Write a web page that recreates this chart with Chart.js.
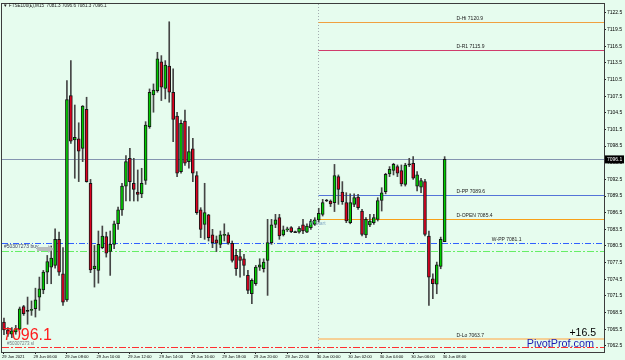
<!DOCTYPE html>
<html><head><meta charset="utf-8">
<script src="https://cdn.jsdelivr.net/npm/chart.js@4.4.0/dist/chart.umd.min.js"></script>
<style>html,body{margin:0;padding:0;background:#e6fcee;}canvas{display:block;}</style>
</head><body>
<canvas id="c" width="625" height="360"></canvas>
<script>
// ---------------- DATA ----------------
const chartTitle = '\u25BC FTSE100(\u00A3),M15  7081.3 7096.6 7081.3 7096.1';
const tickLabels = ['29 Jun 2021','29 Jun 06:00','29 Jun 08:00','29 Jun 10:00','29 Jun 12:00','29 Jun 14:00','29 Jun 16:00','29 Jun 18:00','29 Jun 20:00','29 Jun 22:00','30 Jun 00:00','30 Jun 02:00','30 Jun 04:00','30 Jun 06:00','30 Jun 08:00'];
const barsPerTick = 8;
const totalSlots = 153;
const openP  = [7066.8,7065.4,7064.6,7065.0,7065.5,7069.6,7068.8,7068.9,7069.2,7071.3,7072.6,7075.8,7076.7,7077.0,7081.7,7075.5,7070.8,7107.6,7099.6,7099.8,7098.1,7105.1,7091.8,7076.4,7076.1,7080.2,7082.2,7079.5,7080.8,7084.5,7087.0,7091.3,7096.3,7091.8,7090.2,7089.9,7092.3,7102.0,7107.7,7108.5,7113.7,7108.9,7112.9,7108.2,7103.9,7093.9,7103.0,7095.7,7098.0,7093.2,7087.0,7084.4,7086.1,7082.5,7081.6,7080.8,7082.4,7082.5,7081.0,7078.8,7078.6,7078.2,7075.2,7071.9,7073.7,7076.7,7076.4,7077.9,7081.1,7084.4,7085.6,7082.5,7083.4,7083.8,7083.0,7083.0,7084.3,7083.0,7083.8,7084.4,7085.2,7086.2,7088.7,7088.6,7088.3,7093.0,7090.2,7088.3,7084.7,7088.0,7089.3,7086.8,7082.5,7084.3,7084.7,7085.3,7088.7,7090.3,7093.5,7094.1,7094.8,7094.1,7091.6,7095.2,7095.4,7091.3,7091.1,7092.1,7082.3,7074.6,7073.6,7076.8,7081.3];
const highP  = [7067.5,7065.8,7065.8,7066.2,7069.5,7069.8,7071.3,7070.6,7072.9,7074.9,7076.1,7078.8,7080.5,7083.6,7083.0,7080.2,7110.3,7113.9,7105.9,7102.7,7105.8,7107.3,7092.5,7080.6,7083.2,7084.1,7083.0,7083.2,7085.0,7087.5,7091.8,7096.8,7098.1,7096.3,7094.2,7094.5,7102.9,7108.8,7109.7,7115.4,7114.8,7113.9,7120.9,7112.4,7104.6,7103.2,7105.0,7102.0,7099.9,7093.9,7087.4,7091.8,7086.2,7083.5,7082.3,7083.2,7084.5,7082.9,7081.4,7079.9,7079.9,7079.0,7076.1,7074.6,7077.0,7078.2,7078.2,7085.3,7085.3,7086.2,7086.2,7084.1,7083.9,7084.0,7083.2,7084.0,7085.3,7084.5,7085.3,7085.6,7087.3,7088.9,7088.9,7088.8,7095.2,7093.3,7092.1,7090.1,7089.9,7089.9,7089.8,7087.1,7085.6,7086.2,7086.2,7089.2,7091.0,7093.6,7094.8,7095.4,7095.1,7095.1,7095.4,7096.3,7096.6,7093.9,7092.7,7092.5,7083.2,7075.5,7077.6,7082.1,7096.6];
const lowP   = [7064.5,7064.2,7064.0,7064.6,7065.4,7068.0,7066.4,7068.0,7067.7,7068.9,7071.9,7073.7,7073.7,7076.5,7075.2,7069.8,7070.5,7099.0,7092.7,7092.1,7095.7,7092.0,7075.7,7073.1,7073.8,7080.0,7078.5,7075.2,7080.0,7083.5,7086.0,7088.6,7088.6,7088.6,7088.6,7089.2,7091.6,7101.7,7104.6,7108.2,7106.7,7107.0,7106.4,7099.3,7093.0,7093.6,7095.0,7094.5,7092.1,7086.2,7082.0,7081.7,7081.4,7080.2,7079.5,7080.2,7081.4,7080.8,7077.6,7075.2,7074.9,7075.2,7071.9,7070.1,7073.4,7076.1,7075.8,7071.6,7080.8,7083.8,7081.7,7082.3,7083.1,7082.9,7082.9,7082.8,7082.7,7082.9,7083.5,7084.2,7084.8,7085.9,7088.5,7087.6,7086.7,7088.0,7088.0,7084.7,7084.5,7087.6,7087.1,7082.3,7082.0,7084.0,7084.4,7085.0,7086.8,7089.9,7093.0,7093.3,7093.0,7091.3,7091.3,7094.8,7092.5,7090.4,7090.1,7082.3,7069.8,7071.0,7071.9,7076.4,7081.3];
const closeP = [7065.4,7064.6,7065.2,7065.6,7069.2,7068.3,7068.8,7069.1,7070.8,7072.8,7075.8,7077.7,7078.3,7081.7,7075.8,7070.4,7106.9,7099.4,7100.1,7097.6,7105.7,7092.1,7076.2,7076.9,7080.8,7082.3,7079.2,7080.8,7084.5,7087.0,7091.3,7095.7,7092.1,7090.7,7089.8,7091.8,7102.3,7108.2,7108.6,7114.2,7109.1,7113.1,7108.2,7103.3,7093.6,7102.6,7095.4,7097.5,7093.6,7086.5,7083.5,7086.5,7082.0,7081.1,7081.0,7082.5,7082.6,7081.0,7077.9,7076.4,7077.9,7077.0,7072.5,7074.3,7076.7,7077.1,7077.6,7081.1,7084.3,7085.2,7082.3,7083.4,7083.6,7083.1,7083.1,7083.7,7083.2,7084.1,7085.0,7085.2,7086.4,7088.3,7088.7,7088.1,7093.2,7090.7,7088.5,7085.0,7088.3,7089.2,7087.4,7082.6,7085.3,7085.0,7085.6,7088.7,7090.1,7093.4,7094.3,7095.2,7093.6,7091.7,7095.1,7095.3,7092.7,7093.3,7092.3,7082.6,7074.9,7073.7,7077.1,7081.7,7096.1];
const yTickValues = [7062.5,7065.5,7068.5,7071.5,7074.5,7077.5,7080.5,7083.5,7086.5,7089.5,7092.5,7095.5,7098.5,7101.5,7104.5,7107.5,7110.5,7113.5,7116.5,7119.5,7122.5];
const yMin = 7061.4, yMax = 7124.1;
const levelNames  = ['D-Hi','D-R1','D-PP','D-OPEN','W-PP','D-Lo'];
const levelValues = [7120.9,7115.9,7089.6,7085.4,7081.1,7063.7];
const bidPrice = 7096.1;
const buyPrice = 7079.6;
const slPrice  = 7062.3;
const orderLabel = '#50307273 buy';
const slLabel = '#50307273 sl';
const profitText = '+16.5';
const brandText = 'PivotProf.com';
const dayStartSlot = 80;

// ---------------- STYLES ----------------
const BG = '#e6fcee';
const FAM = '"Liberation Sans", Arial, sans-serif';
const levelStyles = [
  {color:'#f0a040', width:1, dash:[], fromDay:true, labelSlot:115},
  {color:'#d03c6c', width:1, dash:[], fromDay:true, labelSlot:115},
  {color:'#5474d8', width:1, dash:[], fromDay:true, labelSlot:115},
  {color:'#f8a018', width:1, dash:[], fromDay:true, labelSlot:115},
  {color:'#3060ff', width:1, dash:[6,2,1,2], fromDay:false, labelSlot:124},
  {color:'#f5d096', width:2, dash:[], fromDay:true, labelSlot:115}
];
const TXT = '5px ' + FAM;

const slots = Array.from({length: totalSlots}, (_, i) => i);
const nBars = openP.length;
function bodyOf(i){
  if (i >= nBars) return null;
  const o = openP[i], c = closeP[i];
  if (Math.abs(o - c) < 0.15) return [o - 0.09, o + 0.09];
  return [o, c];
}
const bodyData = slots.map(bodyOf);
const wickData = slots.map(i => i < nBars ? [lowP[i], highP[i]] : null);
const bodyColor = slots.map(i => {
  if (i >= nBars) return 'rgba(0,0,0,0)';
  if (Math.abs(openP[i]-closeP[i]) < 0.15) return '#202020';
  return closeP[i] > openP[i] ? '#00cc00' : '#dd0020';
});

function hline(ctx, x1, x2, y){ ctx.beginPath(); ctx.moveTo(x1, y); ctx.lineTo(x2, y); ctx.stroke(); }

const overlay = {
  id: 'overlay',
  beforeDraw(chart){
    const {ctx, width, height} = chart;
    ctx.save(); ctx.fillStyle = BG; ctx.fillRect(0, 0, width, height); ctx.restore();
  },
  beforeDatasetsDraw(chart){
    const {ctx, chartArea: a, scales: {x, y}} = chart;
    ctx.save();
    ctx.lineWidth = 1;
    const xd = Math.round(x.getPixelForValue(dayStartSlot)) - 0.5;
    ctx.strokeStyle = '#a4acb0'; ctx.setLineDash([1, 2]);
    ctx.beginPath(); ctx.moveTo(xd, a.top); ctx.lineTo(xd, a.bottom); ctx.stroke();
    ctx.setLineDash([7, 2, 2, 2]);
    ctx.strokeStyle = '#66ee66';
    hline(ctx, a.left, a.right, Math.round(y.getPixelForValue(buyPrice)) + 0.5);
    ctx.strokeStyle = '#ff3030';
    hline(ctx, a.left, a.right, Math.round(y.getPixelForValue(slPrice)) + 0.5);
    ctx.setLineDash([]);
    ctx.strokeStyle = '#8494b0';
    hline(ctx, a.left, a.right, Math.round(y.getPixelForValue(bidPrice)) + 0.5);
    levelValues.forEach((v, k) => {
      const s = levelStyles[k];
      ctx.strokeStyle = s.color; ctx.lineWidth = s.width; ctx.setLineDash(s.dash);
      const yy = Math.round(y.getPixelForValue(v)) + (s.width % 2 ? 0.5 : 0);
      hline(ctx, s.fromDay ? xd : a.left, a.right, yy);
    });
    ctx.restore();
  },
  afterDraw(chart){
    const {ctx, chartArea: a, scales: {x, y}} = chart;
    ctx.save();
    ctx.setLineDash([]);
    ctx.strokeStyle = '#3c3c3c'; ctx.lineWidth = 1;
    ctx.strokeRect(a.left - 0.5, a.top - 0.5, a.right - a.left + 1, a.bottom - a.top + 1);
    ctx.font = TXT; ctx.fillStyle = '#202020'; ctx.textAlign = 'left'; ctx.textBaseline = 'alphabetic';
    levelValues.forEach((v, k) => {
      const s = levelStyles[k];
      ctx.fillText(levelNames[k] + ' ' + v.toFixed(1), x.getPixelForValue(s.labelSlot), y.getPixelForValue(v) - 2);
    });
    ctx.textBaseline = 'middle';
    ctx.font = '4.6px ' + FAM;
    ctx.fillText(chartTitle, 3, 6);
    ctx.fillStyle = '#404060'; ctx.font = TXT;
    ctx.fillText(orderLabel, 4, 247);
    ctx.fillStyle = '#b8bcbc';
    const ya = y.getPixelForValue(buyPrice) - 2;
    ctx.beginPath(); ctx.moveTo(37, ya - 2); ctx.lineTo(48, ya - 2); ctx.lineTo(48, ya - 4); ctx.lineTo(54, ya); ctx.lineTo(48, ya + 4); ctx.lineTo(48, ya + 2); ctx.lineTo(37, ya + 2); ctx.closePath(); ctx.fill();
    ctx.fillStyle = '#707880'; ctx.font = '4.5px ' + FAM;
    ctx.fillText(slLabel, 7, 344);
    ctx.fillStyle = '#86aac4'; ctx.font = TXT;
    ctx.fillText('W Start', 309, 224);
    ctx.textBaseline = 'alphabetic';
    ctx.fillStyle = '#ff1c1c'; ctx.font = '16px ' + FAM;
    ctx.fillText(bidPrice.toFixed(1), 3, 340);
    ctx.fillStyle = '#000'; ctx.font = '10.5px ' + FAM; ctx.textAlign = 'right';
    ctx.fillText(profitText, 596, 336);
    ctx.fillStyle = '#1c1cb4'; ctx.font = '10.8px ' + FAM;
    ctx.fillText(brandText, 594, 347);
    const yb = y.getPixelForValue(bidPrice);
    ctx.fillStyle = '#000'; ctx.fillRect(a.right + 1, yb - 4, 19, 8);
    ctx.fillStyle = '#fff'; ctx.font = TXT; ctx.textAlign = 'left'; ctx.textBaseline = 'middle';
    ctx.fillText(bidPrice.toFixed(1), a.right + 3, yb);
    ctx.restore();
  }
};

new Chart(document.getElementById('c'), {
  type: 'bar',
  data: {
    labels: slots,
    datasets: [
      {data: bodyData, backgroundColor: bodyColor, borderColor: '#151515', borderWidth: 1, barThickness: 3, grouped: false, borderSkipped: false},
      {data: wickData, backgroundColor: '#454545', borderWidth: 0, barThickness: 1, grouped: false}
    ]
  },
  options: {
    responsive: false, animation: false, devicePixelRatio: 1,
    layout: {padding: {left: 2, top: 1, right: 0, bottom: 0}},
    plugins: {legend: {display: false}, tooltip: {enabled: false}},
    scales: {
      x: {
        type: 'category', offset: true,
        afterFit: s => { s.height = 8; },
        border: {display: true, color: '#3c3c3c'},
        grid: {drawOnChartArea: false, offset: false, tickLength: 2,
          color: c => (c.index % barsPerTick === 0 && c.index < nBars) ? '#202020' : 'rgba(0,0,0,0)'},
        ticks: {autoSkip: false, maxRotation: 0, minRotation: 0, align: 'start', padding: 0, labelOffset: -2,
          color: '#000', font: {family: FAM, size: 4.1},
          callback: (v, i) => (i % barsPerTick === 0 && tickLabels[i / barsPerTick]) ? tickLabels[i / barsPerTick] : ''}
      },
      y: {
        position: 'right', min: yMin, max: yMax,
        afterFit: s => { s.width = 21; },
        afterBuildTicks: s => { s.ticks = yTickValues.map(v => ({value: v})); },
        border: {display: true, color: '#3c3c3c'},
        grid: {drawOnChartArea: false, tickLength: 2, color: '#202020'},
        ticks: {padding: 1, color: '#000', font: {family: FAM, size: 5},
          callback: v => Number(v).toFixed(1)}
      }
    }
  },
  plugins: [overlay]
});
</script>
</body></html>
